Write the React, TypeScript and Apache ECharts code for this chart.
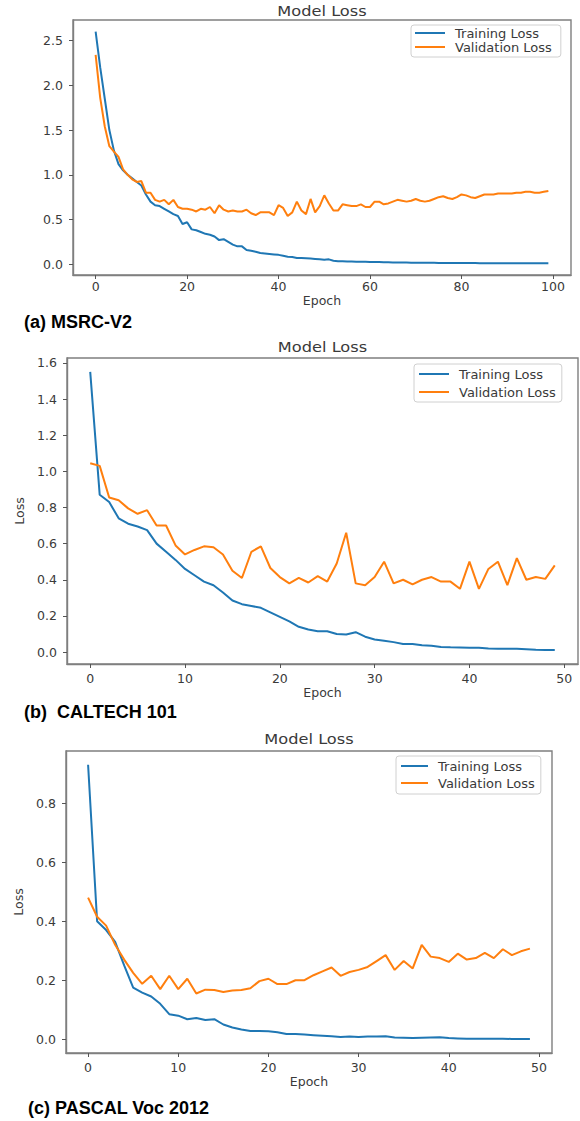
import React, { useEffect, useRef } from "react";
import * as echarts from "echarts";

// ---------- DATA ----------
const msrcTrain = [
  2.60, 2.20, 1.85, 1.50, 1.27, 1.12, 1.05, 1.00, 0.96, 0.92,
  0.88, 0.78, 0.70, 0.66, 0.65, 0.62, 0.59, 0.56, 0.54, 0.45,
  0.47, 0.39, 0.38, 0.36, 0.34, 0.33, 0.31, 0.27, 0.28, 0.25,
  0.22, 0.20, 0.20, 0.16, 0.15, 0.14, 0.125, 0.12, 0.115, 0.11,
  0.105, 0.095, 0.085, 0.08, 0.07, 0.07, 0.068, 0.065, 0.06, 0.055,
  0.05, 0.055, 0.04, 0.035, 0.033, 0.031, 0.03, 0.029, 0.028, 0.027,
  0.026, 0.025, 0.024, 0.023, 0.022, 0.021, 0.02, 0.02, 0.019, 0.018,
  0.018, 0.017, 0.017, 0.016, 0.016, 0.015, 0.015, 0.015, 0.014, 0.014,
  0.014, 0.013, 0.013, 0.013, 0.012, 0.012, 0.012, 0.012, 0.011, 0.011,
  0.011, 0.011, 0.01, 0.01, 0.01, 0.01, 0.01, 0.01, 0.01, 0.01,
];
const msrcVal = [
  2.34, 1.86, 1.54, 1.32, 1.26, 1.20, 1.06, 1.00, 0.95, 0.92,
  0.93, 0.80, 0.80, 0.72, 0.70, 0.72, 0.67, 0.72, 0.64, 0.62,
  0.62, 0.61, 0.59, 0.62, 0.61, 0.64, 0.57, 0.66, 0.61, 0.59,
  0.60, 0.59, 0.59, 0.61, 0.57, 0.55, 0.58, 0.58, 0.58, 0.55,
  0.66, 0.63, 0.54, 0.58, 0.70, 0.60, 0.56, 0.73, 0.58, 0.65,
  0.77, 0.68, 0.60, 0.60, 0.67, 0.66, 0.65, 0.65, 0.67, 0.64,
  0.64, 0.70, 0.70, 0.67, 0.68, 0.70, 0.72, 0.71, 0.70, 0.71,
  0.73, 0.71, 0.70, 0.71, 0.73, 0.75, 0.76, 0.74, 0.73, 0.75,
  0.78, 0.77, 0.75, 0.74, 0.76, 0.78, 0.78, 0.78, 0.79, 0.79,
  0.79, 0.79, 0.80, 0.80, 0.81, 0.81, 0.80, 0.80, 0.81, 0.82,
];
const caltechTrain = [
  1.55, 0.87, 0.83, 0.74, 0.71, 0.695, 0.675, 0.60, 0.555, 0.51,
  0.46, 0.425, 0.39, 0.37, 0.33, 0.285, 0.265, 0.255, 0.245, 0.22,
  0.195, 0.17, 0.14, 0.125, 0.115, 0.115, 0.10, 0.097, 0.11, 0.085,
  0.07, 0.063, 0.055, 0.045, 0.045, 0.038, 0.035, 0.028, 0.026, 0.025,
  0.024, 0.024, 0.02, 0.019, 0.018, 0.018, 0.016, 0.013, 0.012, 0.012,
];
const caltechVal = [
  1.045, 1.03, 0.855, 0.84, 0.795, 0.765, 0.785, 0.70, 0.70, 0.59,
  0.54, 0.565, 0.585, 0.58, 0.54, 0.45, 0.41, 0.555, 0.585, 0.465,
  0.415, 0.38, 0.41, 0.385, 0.42, 0.39, 0.49, 0.66, 0.38, 0.37,
  0.415, 0.50, 0.38, 0.40, 0.375, 0.40, 0.415, 0.39, 0.39, 0.35,
  0.50, 0.35, 0.46, 0.50, 0.37, 0.52, 0.40, 0.415, 0.405, 0.48,
];
const pascalTrain = [
  0.93, 0.40, 0.37, 0.33, 0.25, 0.175, 0.158, 0.145, 0.12, 0.085,
  0.08, 0.068, 0.072, 0.065, 0.068, 0.05, 0.04, 0.033, 0.028, 0.028,
  0.027, 0.024, 0.018, 0.018, 0.016, 0.014, 0.012, 0.01, 0.008, 0.009,
  0.008, 0.009, 0.009, 0.01, 0.006, 0.005, 0.004, 0.005, 0.006, 0.007,
  0.004, 0.003, 0.002, 0.002, 0.002, 0.002, 0.002, 0.001, 0.001, 0.001,
];
const pascalVal = [
  0.48, 0.415, 0.385, 0.32, 0.27, 0.225, 0.188, 0.215, 0.17, 0.215,
  0.17, 0.205, 0.155, 0.168, 0.167, 0.16, 0.165, 0.167, 0.173, 0.197,
  0.205, 0.187, 0.187, 0.20, 0.20, 0.217, 0.23, 0.243, 0.215, 0.228,
  0.235, 0.245, 0.265, 0.285, 0.235, 0.265, 0.24, 0.32, 0.28, 0.275,
  0.262, 0.29, 0.27, 0.275, 0.293, 0.275, 0.305, 0.285, 0.298, 0.307,
];

const xTicks100 = [0, 20, 40, 60, 80, 100];
const xTicks50 = [0, 10, 20, 30, 40, 50];
const yTicksA = [0, 0.5, 1.0, 1.5, 2.0, 2.5];
const yTicksB = [0, 0.2, 0.4, 0.6, 0.8, 1.0, 1.2, 1.4, 1.6];
const yTicksC = [0, 0.2, 0.4, 0.6, 0.8];

const seriesNames = ["Training Loss", "Validation Loss"];
const chartTitle = "Model Loss";
const captions = ["(a) MSRC-V2", "(b)  CALTECH 101", "(c) PASCAL Voc 2012"];

// ---------- STYLE ----------
const BLUE = "#1f77b4";
const ORANGE = "#ff7f0e";
const FONT = "DejaVu Sans";
const TXT = "#3a3a3a";

const panels = [
  {
    grid: { left: 73, top: 20, width: 498, height: 255 },
    x: [-4.95, 103.95], y: [-0.12, 2.73],
    xt: xTicks100, yt: yTicksA, train: msrcTrain, val: msrcVal,
    xLabelMargin: 5, xNameGap: 17, yName: "",
    legend: { left: 411, top: 25, padding: [1, 9, 3, 4], itemWidth: 30, lh: 14, gap: 0 },
    titleY: 11, caption: { x: 24, y: 322 },
  },
  {
    grid: { left: 67, top: 358, width: 511, height: 306 },
    x: [-2.45, 51.45], y: [-0.066, 1.627],
    xt: xTicks50, yt: yTicksB, train: caltechTrain, val: caltechVal,
    xLabelMargin: 8, xNameGap: 22, yName: "Loss",
    legend: { left: 414, top: 364, padding: [2, 6, 2, 5], itemWidth: 30, lh: 16, gap: 2 },
    titleY: 347, caption: { x: 24, y: 712 },
  },
  {
    grid: { left: 66, top: 751, width: 486, height: 302 },
    x: [-2.45, 51.45], y: [-0.0465, 0.9765],
    xt: xTicks50, yt: yTicksC, train: pascalTrain, val: pascalVal,
    xLabelMargin: 8, xNameGap: 22, yName: "Loss",
    legend: { left: 396, top: 756, padding: [2, 6, 3, 5], itemWidth: 27, lh: 16, gap: 1 },
    titleY: 739, caption: { x: 28, y: 1108 },
  },
];

function toPairs(values: number[]) {
  return values.map((v, i) => [i, v]);
}

export default function App() {
  const ref = useRef<HTMLDivElement>(null);

  useEffect(() => {
    document.body.style.margin = "0";
    if (!ref.current) return;
    const chart = echarts.init(ref.current, undefined, { renderer: "svg" });

    const grids: any[] = [];
    const xAxes: any[] = [];
    const yAxes: any[] = [];
    const series: any[] = [];
    const legends: any[] = [];
    const graphics: any[] = [];

    panels.forEach((p, idx) => {
      grids.push({
        ...p.grid,
        show: true,
        borderColor: "#7f7f7f",
        borderWidth: 1.4,
        backgroundColor: "#ffffff",
        containLabel: false,
      });
      xAxes.push({
        type: "value",
        gridIndex: idx,
        min: p.x[0],
        max: p.x[1],
        splitLine: { show: false },
        axisLine: { show: true, onZero: false, lineStyle: { color: "#7f7f7f", width: 1.4 } },
        axisTick: { show: true, length: 4, customValues: p.xt, lineStyle: { color: "#555" } },
        axisLabel: {
          customValues: p.xt,
          margin: p.xLabelMargin,
          color: TXT,
          fontFamily: FONT,
          fontSize: 12.5,
        },
        name: "Epoch",
        nameLocation: "middle",
        nameGap: p.xNameGap,
        nameTextStyle: { color: TXT, fontFamily: FONT, fontSize: 12.5 },
      });
      yAxes.push({
        type: "value",
        gridIndex: idx,
        min: p.y[0],
        max: p.y[1],
        splitLine: { show: false },
        axisLine: { show: true, onZero: false, lineStyle: { color: "#7f7f7f", width: 1.4 } },
        axisTick: { show: true, length: 4, customValues: p.yt, lineStyle: { color: "#555" } },
        axisLabel: {
          customValues: p.yt,
          margin: 10,
          color: TXT,
          fontFamily: FONT,
          fontSize: 12.5,
          formatter: (v: number) => v.toFixed(1),
        },
        name: p.yName,
        nameLocation: "middle",
        nameGap: 40,
        nameTextStyle: { color: TXT, fontFamily: FONT, fontSize: 12.5 },
      });
      series.push({
        type: "line",
        name: seriesNames[0],
        xAxisIndex: idx,
        yAxisIndex: idx,
        data: toPairs(p.train),
        showSymbol: false,
        symbol: "none",
        color: BLUE,
        lineStyle: { color: BLUE, width: 2 },
        z: 3,
      });
      series.push({
        type: "line",
        name: seriesNames[1],
        xAxisIndex: idx,
        yAxisIndex: idx,
        data: toPairs(p.val),
        showSymbol: false,
        symbol: "none",
        color: ORANGE,
        lineStyle: { color: ORANGE, width: 2 },
        z: 4,
      });
      legends.push({
        orient: "vertical",
        left: p.legend.left,
        top: p.legend.top,
        padding: p.legend.padding,
        itemGap: p.legend.gap,
        itemWidth: p.legend.itemWidth,
        itemHeight: 2,
        icon: "rect",
        selectedMode: false,
        backgroundColor: "rgba(255,255,255,0.8)",
        borderColor: "#d0d0d0",
        borderWidth: 1,
        borderRadius: 3,
        data: seriesNames,
        textStyle: {
          color: TXT,
          fontFamily: FONT,
          fontSize: 13,
          lineHeight: p.legend.lh,
          padding: [0, 0, 0, 5],
        },
      });
      const cx = p.grid.left + p.grid.width / 2;
      graphics.push({
        type: "text",
        x: cx,
        y: p.titleY,
        scaleX: 1.2,
        style: {
          text: chartTitle,
          fill: TXT,
          font: `13.5px "${FONT}"`,
          textAlign: "center",
          textVerticalAlign: "middle",
        },
      });
      graphics.push({
        type: "text",
        x: p.caption.x,
        y: p.caption.y,
        style: {
          text: captions[idx],
          fill: "#000",
          font: `bold 18px "Liberation Sans"`,
          textAlign: "left",
          textVerticalAlign: "middle",
        },
      });
    });

    chart.setOption({
      animation: false,
      backgroundColor: "#ffffff",
      grid: grids,
      xAxis: xAxes,
      yAxis: yAxes,
      series,
      legend: legends,
      graphic: { elements: graphics },
    });

    return () => chart.dispose();
  }, []);

  return (
    <div
      ref={ref}
      style={{ position: "absolute", left: 0, top: 0, width: 580, height: 1121, background: "#fff" }}
    />
  );
}
